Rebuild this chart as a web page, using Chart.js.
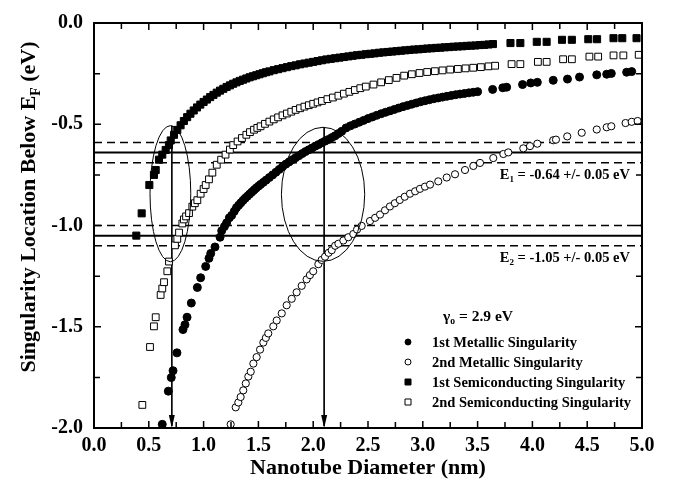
<!DOCTYPE html>
<html>
<head>
<meta charset="utf-8">
<script src="https://cdn.jsdelivr.net/npm/chart.js@4/dist/chart.umd.min.js"></script>
<style>
  html, body { margin: 0; padding: 0; background: #fff; }
  #wrap { width: 680px; height: 489px; }
</style>
</head>
<body>
<div id="wrap"><canvas id="chart" width="680" height="489"></canvas></div>
<script>
// singularity positions: [diameter nm, energy eV]
const metallic1 = [
  [0.623,-1.982],[0.678,-1.818],[0.705,-1.751],[0.721,-1.717],[0.757,-1.629],[0.812,-1.514],
  [0.830,-1.490],[0.849,-1.453],[0.888,-1.383],[0.943,-1.306],[0.973,-1.258],[1.019,-1.202],
  [1.049,-1.162],[1.065,-1.138],[1.104,-1.106],[1.150,-1.058],[1.165,-1.026],[1.190,-1.005],
  [1.210,-0.987],[1.235,-0.962],[1.256,-0.950],[1.280,-0.930],[1.300,-0.912],[1.320,-0.900],
  [1.340,-0.888],[1.360,-0.876],[1.380,-0.865],[1.400,-0.855],[1.420,-0.845],[1.440,-0.835],
  [1.460,-0.825],[1.480,-0.815],[1.500,-0.806],[1.520,-0.797],[1.545,-0.787],[1.570,-0.776],
  [1.600,-0.763],[1.630,-0.750],[1.660,-0.737],[1.690,-0.723],[1.720,-0.710],[1.750,-0.697],
  [1.780,-0.686],[1.810,-0.675],[1.840,-0.665],[1.870,-0.655],[1.900,-0.645],[1.930,-0.635],
  [1.960,-0.626],[1.990,-0.617],[2.020,-0.608],[2.050,-0.600],[2.080,-0.591],[2.110,-0.583],
  [2.140,-0.575],[2.170,-0.566],[2.200,-0.557],[2.230,-0.546],[2.260,-0.535],[2.300,-0.518],
  [2.340,-0.508],[2.380,-0.499],[2.420,-0.490],[2.460,-0.481],[2.500,-0.472],[2.540,-0.464],
  [2.580,-0.456],[2.620,-0.448],[2.660,-0.441],[2.700,-0.434],[2.740,-0.427],[2.780,-0.420],
  [2.820,-0.413],[2.860,-0.407],[2.900,-0.401],[2.940,-0.395],[2.980,-0.389],[3.020,-0.384],
  [3.060,-0.379],[3.100,-0.374],[3.140,-0.370],[3.180,-0.366],[3.220,-0.362],[3.260,-0.358],
  [3.300,-0.354],[3.340,-0.351],[3.380,-0.348],[3.420,-0.345],[3.460,-0.342],[3.500,-0.339],
  [3.637,-0.328],[3.730,-0.320],[3.765,-0.317],[3.910,-0.304],[3.985,-0.296],[4.045,-0.293],
  [4.190,-0.283],[4.320,-0.277],[4.430,-0.267],[4.587,-0.256],[4.678,-0.253],[4.720,-0.249],
  [4.860,-0.243],[4.906,-0.240]
];
const metallic2 = [
  [1.247,-1.982],[1.293,-1.898],[1.317,-1.874],[1.338,-1.847],[1.362,-1.814],[1.385,-1.780],
  [1.408,-1.746],[1.430,-1.722],[1.454,-1.682],[1.484,-1.650],[1.515,-1.613],[1.545,-1.578],
  [1.568,-1.555],[1.590,-1.533],[1.636,-1.498],[1.667,-1.469],[1.713,-1.434],[1.758,-1.394],
  [1.804,-1.362],[1.849,-1.330],[1.895,-1.298],[1.940,-1.266],[1.970,-1.245],[2.000,-1.226],
  [2.047,-1.191],[2.077,-1.170],[2.108,-1.154],[2.140,-1.135],[2.169,-1.122],[2.200,-1.100],
  [2.230,-1.090],[2.275,-1.074],[2.320,-1.058],[2.366,-1.042],[2.400,-1.020],[2.442,-1.002],
  [2.518,-0.978],[2.565,-0.962],[2.610,-0.946],[2.655,-0.925],[2.700,-0.906],[2.745,-0.890],
  [2.790,-0.874],[2.835,-0.858],[2.883,-0.843],[2.930,-0.831],[2.974,-0.819],[3.020,-0.808],
  [3.066,-0.798],[3.141,-0.782],[3.218,-0.763],[3.294,-0.747],[3.385,-0.726],[3.461,-0.706],
  [3.522,-0.691],[3.643,-0.667],[3.735,-0.647],[3.780,-0.639],[3.917,-0.619],[3.978,-0.608],
  [4.045,-0.596],[4.190,-0.579],[4.215,-0.576],[4.318,-0.560],[4.450,-0.542],[4.587,-0.526],
  [4.678,-0.515],[4.720,-0.510],[4.850,-0.494],[4.906,-0.488],[4.960,-0.484]
];
const semi1 = [
  [0.386,-1.050],[0.435,-0.940],[0.505,-0.800],[0.547,-0.750],[0.563,-0.726],[0.593,-0.675],
  [0.623,-0.650],[0.654,-0.627],[0.684,-0.603],[0.700,-0.580],[0.730,-0.552],[0.760,-0.528],
  [0.790,-0.505],[0.820,-0.484],[0.850,-0.465],[0.880,-0.448],[0.910,-0.432],[0.940,-0.417],
  [0.970,-0.403],[1.000,-0.390],[1.030,-0.378],[1.060,-0.366],[1.090,-0.355],[1.120,-0.344],
  [1.150,-0.334],[1.180,-0.325],[1.210,-0.316],[1.240,-0.308],[1.270,-0.300],[1.300,-0.293],
  [1.330,-0.286],[1.360,-0.280],[1.390,-0.274],[1.420,-0.268],[1.450,-0.263],[1.480,-0.258],
  [1.510,-0.253],[1.540,-0.248],[1.570,-0.243],[1.600,-0.239],[1.640,-0.233],[1.680,-0.228],
  [1.720,-0.223],[1.760,-0.218],[1.800,-0.213],[1.840,-0.209],[1.880,-0.204],[1.920,-0.200],
  [1.960,-0.196],[2.000,-0.192],[2.040,-0.188],[2.080,-0.184],[2.120,-0.180],[2.160,-0.177],
  [2.200,-0.174],[2.240,-0.171],[2.280,-0.168],[2.320,-0.165],[2.360,-0.162],[2.400,-0.159],
  [2.440,-0.157],[2.480,-0.154],[2.520,-0.152],[2.560,-0.150],[2.600,-0.147],[2.640,-0.145],
  [2.680,-0.143],[2.720,-0.141],[2.760,-0.139],[2.800,-0.137],[2.840,-0.135],[2.880,-0.133],
  [2.920,-0.131],[2.960,-0.130],[3.000,-0.128],[3.040,-0.126],[3.080,-0.125],[3.120,-0.123],
  [3.160,-0.122],[3.200,-0.120],[3.240,-0.119],[3.280,-0.117],[3.320,-0.116],[3.360,-0.115],
  [3.400,-0.113],[3.440,-0.112],[3.480,-0.111],[3.520,-0.109],[3.560,-0.108],[3.600,-0.106],
  [3.640,-0.104],[3.800,-0.099],[3.890,-0.099],[4.040,-0.093],[4.130,-0.093],[4.270,-0.083],
  [4.360,-0.083],[4.510,-0.080],[4.590,-0.080],[4.740,-0.075],[4.820,-0.075],[4.950,-0.075]
];
const semi2 = [
  [0.441,-1.886],[0.511,-1.600],[0.547,-1.498],[0.563,-1.453],[0.608,-1.343],[0.623,-1.311],
  [0.639,-1.280],[0.669,-1.226],[0.684,-1.178],[0.739,-1.098],[0.760,-1.066],[0.776,-1.035],
  [0.806,-0.990],[0.820,-0.970],[0.840,-0.955],[0.867,-0.939],[0.897,-0.907],[0.920,-0.890],
  [0.943,-0.875],[0.973,-0.843],[1.000,-0.820],[1.019,-0.800],[1.049,-0.772],[1.080,-0.739],
  [1.120,-0.700],[1.160,-0.675],[1.200,-0.650],[1.240,-0.625],[1.270,-0.603],[1.310,-0.585],
  [1.350,-0.568],[1.390,-0.552],[1.423,-0.539],[1.460,-0.527],[1.490,-0.518],[1.520,-0.510],
  [1.560,-0.498],[1.600,-0.487],[1.640,-0.476],[1.680,-0.466],[1.720,-0.456],[1.760,-0.447],
  [1.800,-0.438],[1.840,-0.429],[1.880,-0.421],[1.920,-0.413],[1.960,-0.406],[2.000,-0.399],
  [2.040,-0.392],[2.080,-0.385],[2.130,-0.376],[2.180,-0.368],[2.230,-0.359],[2.280,-0.349],
  [2.330,-0.340],[2.380,-0.331],[2.430,-0.322],[2.480,-0.314],[2.550,-0.304],[2.620,-0.293],
  [2.690,-0.282],[2.760,-0.271],[2.830,-0.260],[2.900,-0.253],[2.970,-0.247],[3.040,-0.242],
  [3.110,-0.238],[3.180,-0.234],[3.250,-0.230],[3.320,-0.227],[3.390,-0.224],[3.460,-0.221],
  [3.530,-0.218],[3.600,-0.214],[3.660,-0.211],[3.810,-0.203],[3.890,-0.203],[4.050,-0.192],
  [4.130,-0.192],[4.280,-0.179],[4.360,-0.179],[4.520,-0.166],[4.600,-0.166],[4.740,-0.160],
  [4.830,-0.160],[4.970,-0.157]
];

// experimental levels (eV) and their spread
const levels = [-0.64, -1.05];
const spread = 0.05;
const levelLabels = ['E1', 'E2'];
// diameters picked out by the arrows (nm)
const arrowDiameters = [0.71, 2.10];
const seriesNames = ['1st Metallic Singularity', '2nd Metallic Singularity',
  '1st Semiconducting Singularity', '2nd Semiconducting Singularity'];
const gammaText = '2.9 eV';

// ellipse outlines (data units)
const ellipses = [
  { cx: 0.697, cy: -0.843, rx: 0.186, ry: 0.336 },
  { cx: 2.09, cy: -0.846, rx: 0.38, ry: 0.331 }
];

const FONT = '"Liberation Serif", "Times New Roman", serif';
const toXY = (arr) => arr.map(([x, y]) => ({ x, y }));

const lineSets = [];
levels.forEach((lv) => {
  lineSets.push({ data: [{ x: 0, y: lv }, { x: 5, y: lv }], borderWidth: 2, borderDash: [] });
  lineSets.push({ data: [{ x: 0, y: lv + spread }, { x: 5, y: lv + spread }], borderWidth: 1.4, borderDash: [8, 5] });
  lineSets.push({ data: [{ x: 0, y: lv - spread }, { x: 5, y: lv - spread }], borderWidth: 1.4, borderDash: [8, 5] });
});
arrowDiameters.forEach((d, i) => {
  const e = ellipses[i];
  lineSets.push({ data: [{ x: d, y: e.cy + e.ry }, { x: d, y: -1.99 }], borderWidth: 1, borderDash: [] });
});

const datasets = lineSets.map((s) => ({
  type: 'line', data: s.data, showLine: true, pointRadius: 0, borderColor: '#000',
  borderWidth: s.borderWidth, borderDash: s.borderDash, order: 10, clip: false
}));

const markerStyles = [
  { src: metallic1, pointStyle: 'circle', radius: 4, fill: '#000' },
  { src: metallic2, pointStyle: 'circle', radius: 3.6, fill: '#fff' },
  { src: semi1, pointStyle: 'rect', radius: 5, fill: '#000' },
  { src: semi2, pointStyle: 'rect', radius: 4.8, fill: '#fff' }
];
markerStyles.forEach((m, i) => {
  datasets.push({
    type: 'scatter', label: seriesNames[i], data: toXY(m.src), pointStyle: m.pointStyle,
    pointRadius: m.radius, pointBackgroundColor: m.fill, pointBorderColor: '#000',
    pointBorderWidth: 1, order: 1, showLine: false
  });
});

function richText(ctx, parts, x, y, align, size) {
  let w = 0;
  parts.forEach((p) => {
    ctx.font = 'bold ' + (p.sub ? size * 0.62 : size) + 'px ' + FONT;
    w += ctx.measureText(p.t).width;
  });
  let cx = align === 'right' ? x - w : align === 'center' ? x - w / 2 : x;
  ctx.textBaseline = 'alphabetic';
  ctx.textAlign = 'left';
  parts.forEach((p) => {
    ctx.font = 'bold ' + (p.sub ? size * 0.62 : size) + 'px ' + FONT;
    ctx.fillText(p.t, cx, y + (p.sub ? size * 0.22 : 0));
    cx += ctx.measureText(p.t).width;
  });
}

const decor = {
  id: 'decor',
  afterDatasetsDraw(chart) {
    const { ctx, chartArea: a, scales: { x, y } } = chart;
    ctx.save();
    ctx.strokeStyle = '#000';
    ctx.fillStyle = '#000';

    // ellipses
    ctx.lineWidth = 1;
    ellipses.forEach((e) => {
      const px = x.getPixelForValue(e.cx), py = y.getPixelForValue(e.cy);
      const rx = x.getPixelForValue(e.cx + e.rx) - px;
      const ry = py - y.getPixelForValue(e.cy + e.ry);
      ctx.beginPath();
      ctx.ellipse(px, py, rx, ry, 0, 0, Math.PI * 2);
      ctx.stroke();
    });

    // arrow heads
    arrowDiameters.forEach((d) => {
      const px = x.getPixelForValue(d), py = y.getPixelForValue(-2);
      ctx.beginPath();
      ctx.moveTo(px, py);
      ctx.lineTo(px - 3, py - 13);
      ctx.lineTo(px + 3, py - 13);
      ctx.closePath();
      ctx.fill();
    });

    // frame
    ctx.lineWidth = 2;
    ctx.strokeRect(a.left, a.top, a.right - a.left, a.bottom - a.top);

    // inward ticks on all sides
    ctx.lineWidth = 1.5;
    ctx.beginPath();
    for (let i = 0; i <= 20; i++) {
      const px = x.getPixelForValue(i * 0.25);
      const len = i % 2 === 0 ? 7 : 6;
      ctx.moveTo(px, a.bottom); ctx.lineTo(px, a.bottom - len);
      ctx.moveTo(px, a.top); ctx.lineTo(px, a.top + len);
    }
    for (let i = 0; i <= 8; i++) {
      const py = y.getPixelForValue(-i * 0.25);
      const len = i % 2 === 0 ? 7 : 6;
      ctx.moveTo(a.left, py); ctx.lineTo(a.left + len, py);
      ctx.moveTo(a.right, py); ctx.lineTo(a.right - len, py);
    }
    ctx.stroke();

    // level labels
    levels.forEach((lv, i) => {
      const py = y.getPixelForValue(lv - 0.107);
      richText(ctx, [{ t: 'E' }, { t: levelLabels[i].slice(1), sub: true },
        { t: ' = ' + lv.toFixed(2) + ' +/- ' + spread.toFixed(2) + ' eV' }], x.getPixelForValue(4.89), py + 5, 'right', 14.5);
    });

    // legend
    const lx = 408, ty = 321;
    richText(ctx, [{ t: '\u03b3' }, { t: 'o', sub: true }, { t: ' = ' + gammaText }], 443, ty, 'left', 15.5);
    markerStyles.forEach((m, i) => {
      const ry = 342 + i * 20;
      ctx.lineWidth = 1;
      ctx.fillStyle = m.fill;
      ctx.beginPath();
      if (m.pointStyle === 'circle') ctx.arc(lx, ry, 3, 0, Math.PI * 2);
      else ctx.rect(lx - 3, ry - 3, 6, 6);
      ctx.fill();
      ctx.stroke();
      ctx.fillStyle = '#000';
      richText(ctx, [{ t: seriesNames[i] }], 432, ry + 5, 'left', 14.5);
    });

    // axis titles
    ctx.font = 'bold 22px ' + FONT;
    ctx.textAlign = 'center';
    ctx.textBaseline = 'middle';
    ctx.fillText('Nanotube Diameter (nm)', (a.left + a.right) / 2, 468);
    ctx.save();
    ctx.translate(27, 207);
    ctx.rotate(-Math.PI / 2);
    richText(ctx, [{ t: 'Singularity Location Below E' }, { t: 'F', sub: true }, { t: ' (eV)' }], 0, 8, 'center', 22);
    ctx.restore();

    ctx.restore();
  }
};

new Chart(document.getElementById('chart'), {
  type: 'scatter',
  data: { datasets },
  options: {
    responsive: false,
    animation: false,
    devicePixelRatio: 1,
    layout: { padding: { left: 0, top: 11, right: 38, bottom: 0 } },
    plugins: { legend: { display: false }, tooltip: { enabled: false } },
    scales: {
      x: {
        type: 'linear', min: 0, max: 5,
        afterFit: (s) => { s.height = 61; },
        grid: { display: false, drawTicks: false },
        border: { display: false },
        ticks: {
          stepSize: 0.5, padding: 6, color: '#000',
          font: { family: FONT, size: 20, weight: 'bold' },
          callback: (v) => v.toFixed(1)
        }
      },
      y: {
        type: 'linear', min: -2, max: 0,
        afterFit: (s) => { s.width = 94; },
        grid: { display: false, drawTicks: false },
        border: { display: false },
        ticks: {
          stepSize: 0.5, padding: 11, color: '#000',
          font: { family: FONT, size: 20, weight: 'bold' },
          callback: (v) => (Math.abs(v) < 1e-9 ? '0.0' : v.toFixed(1))
        }
      }
    }
  },
  plugins: [decor]
});
</script>
</body>
</html>
